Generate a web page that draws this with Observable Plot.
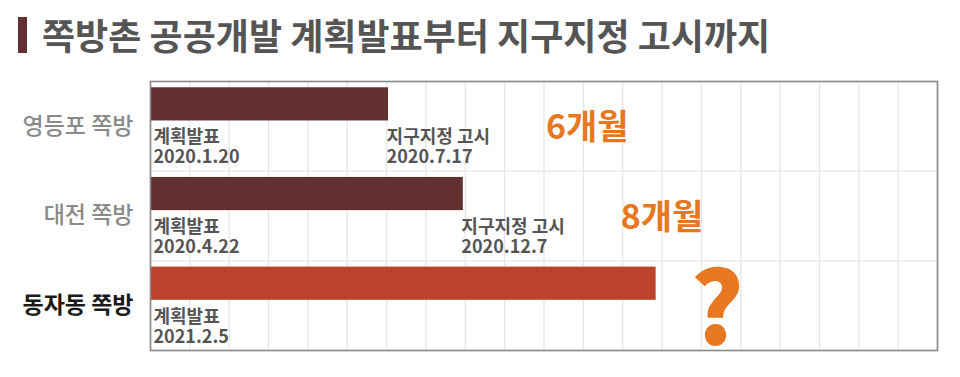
<!DOCTYPE html>
<html>
<head>
<meta charset="utf-8">
<script src="https://cdn.jsdelivr.net/npm/d3@7"></script>
<script src="https://cdn.jsdelivr.net/npm/@observablehq/plot@0.6"></script>
<style>
  html, body { margin: 0; padding: 0; background: #fff; }
  body { width: 960px; height: 377px; overflow: hidden; font-family: "Noto Sans CJK KR", "Noto Sans", sans-serif; }
  #title { position: relative; height: 70px; }
  #title .bar { position: absolute; left: 18px; top: 17px; width: 9px; height: 36px; background: #623031; }
  #title .txt { position: absolute; left: 42px; top: 9px; font-size: 36px; font-weight: 700; color: #555; letter-spacing: 0; white-space: nowrap; line-height: 50px; }
  svg { display: block; }
</style>
</head>
<body>
<div id="title"><div class="bar"></div><div class="txt">쪽방촌 공공개발 계획발표부터 지구지정 고시까지</div></div>
<div id="chart"></div>
<script>
// ---- data ----
const places = ["영등포 쪽방", "대전 쪽방", "동자동 쪽방"];
const months = [6.05, 7.95, 12.85];        // bar length in months since announcement
const announceDates = ["2020.1.20", "2020.4.22", "2021.2.5"];
const designationDates = ["2020.7.17", "2020.12.7", null];
const durationLabels = ["6개월", "8개월", "?"];
const barColors = ["#623031", "#623031", "#bb432b"];
const xMax = 20;

const rows = places.map((p, i) => ({
  i, place: p, months: months[i], announce: announceDates[i],
  designation: designationDates[i], duration: durationLabels[i], color: barColors[i]
}));

const font = "'Noto Sans CJK KR', 'Noto Sans', sans-serif";
const gridTicks = d3.range(0, xMax + 1);

const chart = Plot.plot({
  width: 960,
  height: 307,
  marginLeft: 150,
  marginRight: 23,
  marginTop: 11,
  marginBottom: 27,
  style: { fontFamily: font, background: "#fff" },
  x: { domain: [0, xMax], axis: null },
  y: { domain: [0, places.length], reverse: true, axis: null },
  marks: [
    Plot.ruleX(gridTicks, { x: d => d, stroke: "#e6e6e6", strokeWidth: 1.3 }),
    Plot.ruleY(d3.range(1, places.length), { y: d => d, stroke: "#e6e6e6", strokeWidth: 1.3 }),
    Plot.rect(rows, { x1: 0, x2: "months", y1: d => d.i + 0.07, y2: d => d.i + 0.44, fill: "color" }),
    // start labels
    Plot.text(rows, {
      x: 0, y: d => d.i + 0.53, text: d => "계획발표\n" + d.announce,
      textAnchor: "start", lineAnchor: "top", dx: 3, fontSize: 18, fontWeight: 600,
      lineHeight: 1.12, fill: "#555"
    }),
    // end labels
    Plot.text(rows.filter(d => d.designation), {
      x: "months", y: d => d.i + 0.53, text: d => "지구지정 고시\n" + d.designation,
      textAnchor: "start", lineAnchor: "top", dx: -2, fontSize: 18, fontWeight: 600,
      lineHeight: 1.12, fill: "#555"
    }),
    // duration labels
    Plot.text(rows.filter(d => d.designation), {
      x: d => d.months + 5.05, y: d => d.i + 0.52, text: "duration",
      fontSize: 34, fontWeight: 700, fill: "#e87722"
    }),
    Plot.text(rows.filter(d => !d.designation), {
      x: d => d.months + 1.55, y: d => d.i + 0.58, text: "duration",
      fontSize: 100, fontWeight: 900, fill: "#e87722"
    }),
    // y labels
    Plot.text(rows.filter(d => d.i !== 2), {
      x: 0, y: d => d.i + 0.5, text: "place", textAnchor: "end", dx: -17,
      fontSize: 23, fontWeight: 500, fill: "#8a8a8a"
    }),
    Plot.text(rows.filter(d => d.i === 2), {
      x: 0, y: d => d.i + 0.5, text: "place", textAnchor: "end", dx: -17,
      fontSize: 23, fontWeight: 700, fill: "#1a1a1a"
    }),
    Plot.frame({ stroke: "#888", strokeWidth: 1.6 })
  ]
});
document.getElementById("chart").appendChild(chart);
</script>
</body>
</html>
